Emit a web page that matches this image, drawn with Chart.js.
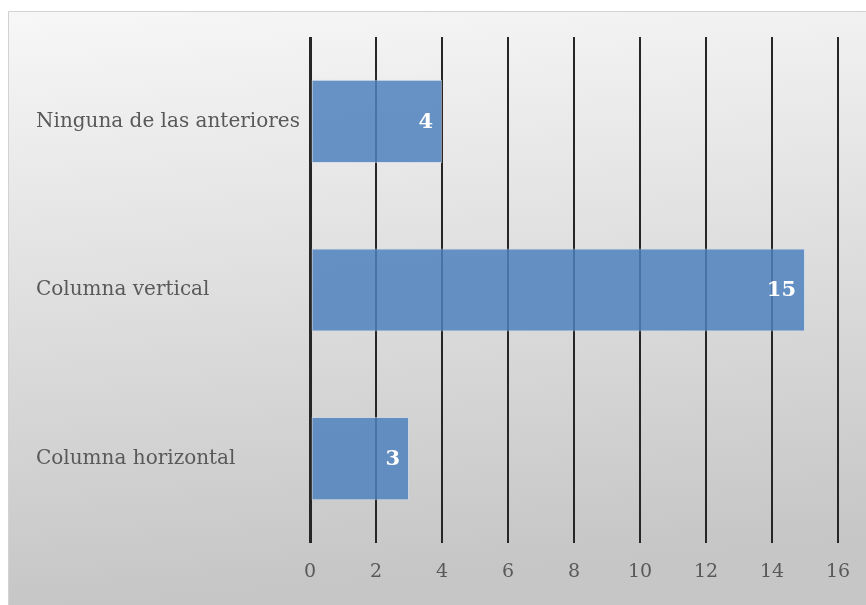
<!DOCTYPE html>
<html>
<head>
<meta charset="utf-8">
<script src="https://cdn.jsdelivr.net/npm/chart.js@4/dist/chart.umd.min.js"></script>
<style>
html,body{margin:0;padding:0;background:#fff;}
#wrap{width:866px;height:605px;position:relative;}
</style>
</head>
<body>
<div id="wrap"><canvas id="c" width="866" height="605"></canvas></div>
<script>
const categories = ["Ninguna de las anteriores", "Columna vertical", "Columna horizontal"];
const values = [4, 15, 3];
const xTicks = [0, 2, 4, 6, 8, 10, 12, 14, 16];

const FONT = "'DejaVu Serif', serif";

const bgPlugin = {
  id: 'bg',
  beforeDraw(chart) {
    const ctx = chart.ctx;
    const w = chart.width, h = chart.height;
    ctx.save();
    const g = ctx.createLinearGradient(0, 11, 50, h);
    g.addColorStop(0, '#f7f7f7');
    g.addColorStop(1, '#c6c6c6');
    ctx.fillStyle = g;
    ctx.fillRect(8, 11, w - 8, h - 11);
    ctx.strokeStyle = '#d2d2d2';
    ctx.lineWidth = 1;
    ctx.beginPath();
    ctx.moveTo(8.5, h);
    ctx.lineTo(8.5, 11.5);
    ctx.lineTo(w, 11.5);
    ctx.stroke();
    ctx.restore();
  }
};

const labelPlugin = {
  id: 'vals',
  afterDatasetsDraw(chart) {
    const ctx = chart.ctx;
    const meta = chart.getDatasetMeta(0);
    ctx.save();
    ctx.font = "bold 21px " + FONT;
    ctx.fillStyle = '#ffffff';
    ctx.textAlign = 'right';
    ctx.textBaseline = 'middle';
    meta.data.forEach((bar, i) => {
      ctx.fillText(String(values[i]), bar.x - 9, bar.y + 1);
    });
    ctx.restore();
  }
};

new Chart(document.getElementById('c'), {
  type: 'bar',
  data: {
    labels: categories,
    datasets: [{
      data: values,
      backgroundColor: 'rgba(79,129,189,0.85)',
      borderColor: 'rgba(200,215,235,0.6)',
      borderWidth: 1,
      borderSkipped: false,
      categoryPercentage: 0.493,
      barPercentage: 1
    }]
  },
  options: {
    indexAxis: 'y',
    responsive: false,
    animation: false,
    devicePixelRatio: 1,
    layout: { padding: { left: 36, top: 37, right: 28, bottom: 0 } },
    plugins: { legend: { display: false }, tooltip: { enabled: false } },
    scales: {
      x: {
        min: 0, max: 16,
        afterBuildTicks(scale) { scale.ticks = xTicks.map(v => ({ value: v })); },
        border: { display: false },
        grid: {
          color: '#262626',
          lineWidth: (c) => c.index === 0 ? 3 : 2,
          drawTicks: false
        },
        ticks: {
          padding: 18,
          color: '#595959',
          font: { family: FONT, size: 19 }
        },
        afterFit(scale) { scale.height = 62; scale.paddingRight = 0; scale.paddingLeft = 0; }
      },
      y: {
        border: { display: false },
        grid: { display: false, drawTicks: false },
        ticks: {
          crossAlign: 'far',
          padding: 0,
          color: '#595959',
          font: { family: FONT, size: 20 }
        },
        afterFit(scale) { scale.width = 274; }
      }
    }
  },
  plugins: [bgPlugin, labelPlugin]
});
</script>
</body>
</html>
